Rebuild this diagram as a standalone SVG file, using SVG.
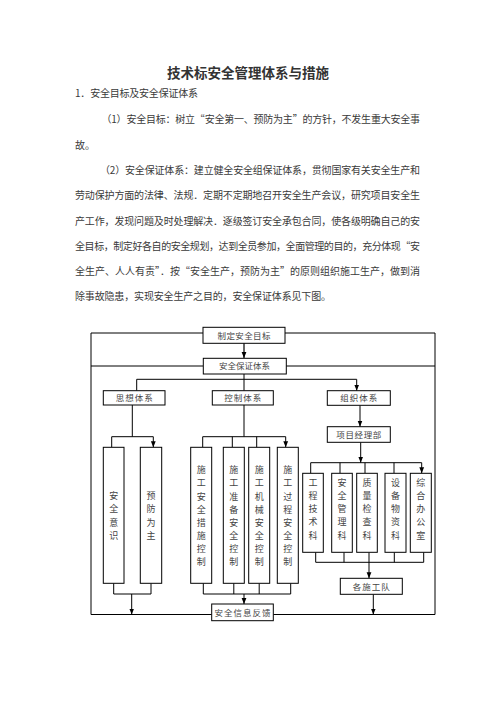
<svg xmlns="http://www.w3.org/2000/svg" width="496" height="702" viewBox="0 0 496 702">
<defs>
<style>
.t{font-family:"Noto Sans CJK SC","Liberation Serif",serif;fill:#333;}
.p{font-size:10px;fill:#3a3a3a;}
.b{fill:#fff;stroke:#000;stroke-width:1;}
.l{font-size:8.5px;text-anchor:middle;fill:#444;}
.v{font-size:9px;text-anchor:middle;fill:#444;}
.c{fill:none;stroke:#000;stroke-width:1;}
</style>
<marker id="a" viewBox="0 0 6 6" refX="6" refY="3" markerWidth="6" markerHeight="6" markerUnits="userSpaceOnUse" orient="auto">
<path d="M0,0.6 L6,3 L0,5.4 Z" fill="#000"/>
</marker>
</defs>
<rect width="496" height="702" fill="#fff"/>
<g id="text">
<text class="t" x="248" y="78" font-size="13.5" font-weight="bold" text-anchor="middle" fill="#111">技术标安全管理体系与措施</text>
<text class="t p" x="75" y="97" textLength="123" lengthAdjust="spacing">1．安全目标及安全保证体系</text>
<text class="t p" x="101.5" y="123" textLength="318.5" lengthAdjust="spacing">（1）安全目标：树立“安全第一、预防为主”的方针，不发生重大安全事</text>
<text class="t p" x="75" y="148.5">故。</text>
<text class="t p" x="100" y="173.5" textLength="320" lengthAdjust="spacing">（2）安全保证体系：建立健全安全组保证体系，贯彻国家有关安全生产和</text>
<text class="t p" x="75" y="199" textLength="345" lengthAdjust="spacing">劳动保护方面的法律、法规．定期不定期地召开安全生产会议，研究项目安全生</text>
<text class="t p" x="75" y="224.5" textLength="345" lengthAdjust="spacing">产工作，发现问题及时处理解决．逐级签订安全承包合同，使各级明确自己的安</text>
<text class="t p" x="75" y="249.5" textLength="345" lengthAdjust="spacing">全目标，制定好各自的安全规划，达到全员参加，全面管理的目的，充分体现“安</text>
<text class="t p" x="75" y="274.5" textLength="345" lengthAdjust="spacing">全生产、人人有责”．按“安全生产，预防为主”的原则组织施工生产，做到消</text>
<text class="t p" x="75" y="299.5" textLength="256" lengthAdjust="spacing">除事故隐患，实现安全生产之目的，安全保证体系见下图。</text>
</g>
<g id="connectors">
<path class="c" d="M203,333 H91 V614.5 H211.7 M285,333 H435 V614.5 H273.3 M203,366 H91 M286,366 H435"/>
<path d="M244,343 V358" fill="none" stroke="#666" stroke-width="2" marker-end="url(#a)"/>
<path class="c" d="M136.7,379.3 H356.7 M244,374 V379.3"/>
<path class="c" d="M136.7,379.3 V390.7 M244,379.3 V390.7 M356.7,379.3 V390.7" marker-end="url(#a)"/>
<path class="c" d="M132.3,405 V436.7 M111.7,436.7 H153.3"/>
<path class="c" d="M111.7,436.7 V447.3 M153.3,436.7 V447.3" marker-end="url(#a)"/>
<path class="c" d="M113.7,583.3 V594 H151 V583.3"/>
<path class="c" d="M131.7,594 V614.5" marker-end="url(#a)"/>
<path class="c" d="M244,405 V436.7 M202.7,436.7 H285.7"/>
<path class="c" d="M202.7,436.7 V447.3 M232.3,436.7 V447.3 M256.7,436.7 V447.3 M285.7,436.7 V447.3" marker-end="url(#a)"/>
<path class="c" d="M203.3,583.3 V594 H290.7 V583.3 M233.8,583.3 V594 M259.2,583.3 V594"/>
<path class="c" d="M244,594 V604" marker-end="url(#a)"/>
<path class="c" d="M360,405.3 V426.7" marker-end="url(#a)"/>
<path class="c" d="M360.7,442.3 V462.7" marker-end="url(#a)"/>
<path class="c" d="M310.7,462.7 H421.7"/>
<path class="c" d="M310.7,462.7 V473.3 M340,462.7 V473.3 M365,462.7 V473.3 M394,462.7 V473.3 M421.7,462.7 V473.3" marker-end="url(#a)"/>
<path class="c" d="M315.7,552.3 V562.3 H423.7 V552.3 M344,552.3 V562.3 M394.3,552.3 V562.3"/>
<path class="c" d="M369,552.3 V578.3" marker-end="url(#a)"/>
<path class="c" d="M373.3,594.3 V614.5" marker-end="url(#a)"/>
</g>
<g id="n-goal"><rect class="b" x="203" y="327.3" width="82" height="16"/><text class="t l" x="244" y="338.5" textLength="53" lengthAdjust="spacing">制定安全目标</text></g>
<g id="n-system"><rect class="b" x="203.3" y="358.3" width="83" height="15.7"/><text class="t l" x="244.6" y="369.3" textLength="51" lengthAdjust="spacing">安全保证体系</text></g>
<g id="n-think"><rect class="b" x="103.3" y="390.7" width="61.7" height="14.3"/><text class="t l" x="134.2" y="401" textLength="37" lengthAdjust="spacing">思想体系</text></g>
<g id="n-control"><rect class="b" x="212.3" y="390.7" width="61" height="14.3"/><text class="t l" x="242.8" y="401" textLength="37" lengthAdjust="spacing">控制体系</text></g>
<g id="n-org"><rect class="b" x="327.3" y="390.7" width="63" height="14.6"/><text class="t l" x="358.8" y="401" textLength="37" lengthAdjust="spacing">组织体系</text></g>
<g id="n-pm"><rect class="b" x="327.3" y="426.7" width="63" height="15.6"/><text class="t l" x="358.8" y="437.6" textLength="45" lengthAdjust="spacing">项目经理部</text></g>
<g id="n-aware"><rect class="b" x="103.3" y="447.3" width="20.7" height="136"/><text class="t v" x="113.7" y="499"><tspan x="113.7">安</tspan><tspan x="113.7" dy="13.3">全</tspan><tspan x="113.7" dy="13.3">意</tspan><tspan x="113.7" dy="13.3">识</tspan></text></g>
<g id="n-prevent"><rect class="b" x="140.3" y="447.3" width="21.4" height="136"/><text class="t v" x="151" y="499"><tspan x="151">预</tspan><tspan x="151" dy="13.3">防</tspan><tspan x="151" dy="13.3">为</tspan><tspan x="151" dy="13.3">主</tspan></text></g>
<g id="n-c1"><rect class="b" x="190.7" y="447.3" width="21" height="136"/><text class="t v" y="473.3"><tspan x="201.2">施</tspan><tspan x="201.2" dy="13.1">工</tspan><tspan x="201.2" dy="13.1">安</tspan><tspan x="201.2" dy="13.1">全</tspan><tspan x="201.2" dy="13.1">措</tspan><tspan x="201.2" dy="13.1">施</tspan><tspan x="201.2" dy="13.1">控</tspan><tspan x="201.2" dy="13.1">制</tspan></text></g>
<g id="n-c2"><rect class="b" x="223.3" y="447.3" width="21" height="136"/><text class="t v" y="473.3"><tspan x="233.8">施</tspan><tspan x="233.8" dy="13.1">工</tspan><tspan x="233.8" dy="13.1">准</tspan><tspan x="233.8" dy="13.1">备</tspan><tspan x="233.8" dy="13.1">安</tspan><tspan x="233.8" dy="13.1">全</tspan><tspan x="233.8" dy="13.1">控</tspan><tspan x="233.8" dy="13.1">制</tspan></text></g>
<g id="n-c3"><rect class="b" x="248.7" y="447.3" width="21" height="136"/><text class="t v" y="473.3"><tspan x="259.2">施</tspan><tspan x="259.2" dy="13.1">工</tspan><tspan x="259.2" dy="13.1">机</tspan><tspan x="259.2" dy="13.1">械</tspan><tspan x="259.2" dy="13.1">安</tspan><tspan x="259.2" dy="13.1">全</tspan><tspan x="259.2" dy="13.1">控</tspan><tspan x="259.2" dy="13.1">制</tspan></text></g>
<g id="n-c4"><rect class="b" x="277.3" y="447.3" width="21" height="136"/><text class="t v" y="473.3"><tspan x="287.8">施</tspan><tspan x="287.8" dy="13.1">工</tspan><tspan x="287.8" dy="13.1">过</tspan><tspan x="287.8" dy="13.1">程</tspan><tspan x="287.8" dy="13.1">安</tspan><tspan x="287.8" dy="13.1">全</tspan><tspan x="287.8" dy="13.1">控</tspan><tspan x="287.8" dy="13.1">制</tspan></text></g>
<g id="n-d1"><rect class="b" x="302.7" y="473.3" width="20.6" height="79"/><text class="t v" y="486"><tspan x="313">工</tspan><tspan x="313" dy="13.15">程</tspan><tspan x="313" dy="13.15">技</tspan><tspan x="313" dy="13.15">术</tspan><tspan x="313" dy="13.15">科</tspan></text></g>
<g id="n-d2"><rect class="b" x="331.7" y="473.3" width="20.6" height="79"/><text class="t v" y="486"><tspan x="342">安</tspan><tspan x="342" dy="13.15">全</tspan><tspan x="342" dy="13.15">管</tspan><tspan x="342" dy="13.15">理</tspan><tspan x="342" dy="13.15">科</tspan></text></g>
<g id="n-d3"><rect class="b" x="356.7" y="473.3" width="20.6" height="79"/><text class="t v" y="486"><tspan x="367">质</tspan><tspan x="367" dy="13.15">量</tspan><tspan x="367" dy="13.15">检</tspan><tspan x="367" dy="13.15">查</tspan><tspan x="367" dy="13.15">科</tspan></text></g>
<g id="n-d4"><rect class="b" x="385" y="473.3" width="21" height="79"/><text class="t v" y="486"><tspan x="395.5">设</tspan><tspan x="395.5" dy="13.15">备</tspan><tspan x="395.5" dy="13.15">物</tspan><tspan x="395.5" dy="13.15">资</tspan><tspan x="395.5" dy="13.15">科</tspan></text></g>
<g id="n-d5"><rect class="b" x="410.3" y="473.3" width="21" height="79"/><text class="t v" y="486"><tspan x="420.8">综</tspan><tspan x="420.8" dy="13.15">合</tspan><tspan x="420.8" dy="13.15">办</tspan><tspan x="420.8" dy="13.15">公</tspan><tspan x="420.8" dy="13.15">室</tspan></text></g>
<g id="n-team"><rect class="b" x="340.3" y="578.3" width="62" height="16"/><text class="t l" x="371.3" y="589.5" textLength="37" lengthAdjust="spacing">各施工队</text></g>
<g id="n-feedback"><rect class="b" x="211.7" y="604" width="61.6" height="16.7"/><text class="t l" x="242.5" y="615.5" textLength="56" lengthAdjust="spacing">安全信息反馈</text></g>
</svg>
